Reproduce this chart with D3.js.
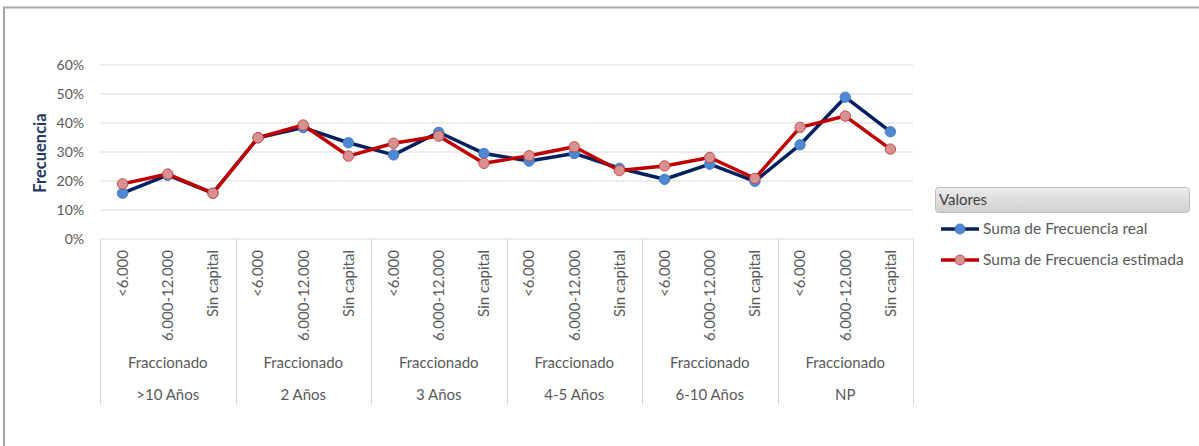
<!DOCTYPE html>
<html>
<head>
<meta charset="utf-8">
<script src="https://cdn.jsdelivr.net/npm/d3@7"></script>
<style>
  html, body { margin: 0; padding: 0; background: #fff; }
  svg { display: block; font-family: Lato, "Liberation Sans", sans-serif; }
</style>
</head>
<body>
<svg id="chart" width="1199" height="446"></svg>
<script>
// Capital brackets inside each duration group
const capitalLabels = ["<6.000", "6.000-12.000", "Sin capital"];
// Duration groups (outer axis level)
const groups = [">10 Años", "2 Años", "3 Años", "4-5 Años", "6-10 Años", "NP"];
// Payment type (middle axis level)
const paymentType = "Fraccionado";

// Frequency series, in group order, three brackets per group
const realValues = [
  0.158, 0.220, 0.158,
  0.349, 0.384, 0.332,
  0.290, 0.368, 0.295,
  0.269, 0.295, 0.244,
  0.206, 0.258, 0.199,
  0.325, 0.489, 0.370
];
const estimatedValues = [
  0.190, 0.224, 0.158,
  0.349, 0.393, 0.286,
  0.330, 0.355, 0.261,
  0.287, 0.318, 0.236,
  0.252, 0.281, 0.209,
  0.385, 0.424, 0.310
];
const yTicks = [0, 0.1, 0.2, 0.3, 0.4, 0.5, 0.6];
const seriesNames = ["Suma de Frecuencia real", "Suma de Frecuencia estimada"];

const svg = d3.select("#chart");

// outer frame (left and top edges)
svg.append("path")
  .attr("d", "M4,446 V7.5 H1199")
  .attr("fill", "none")
  .attr("stroke", "#a6a6a6")
  .attr("stroke-width", 2);

const plot = { left: 100, right: 913, top: 65, bottom: 239 };

// category keys: group|bracket
const keys = [];
groups.forEach(g => capitalLabels.forEach(c => keys.push(g + "|" + c)));

const x = d3.scaleBand().domain(keys).range([plot.left, plot.right]);
const y = d3.scaleLinear().domain([0, 0.6]).range([plot.bottom, plot.top]);

// horizontal gridlines
svg.append("g")
  .selectAll("line")
  .data(yTicks.filter(t => t > 0))
  .join("line")
  .attr("x1", plot.left).attr("x2", plot.right)
  .attr("y1", d => y(d)).attr("y2", d => y(d))
  .attr("stroke", "#d9d9d9").attr("stroke-width", 1);

// value axis labels
const yAxis = d3.axisLeft(y).tickValues(yTicks).tickFormat(d3.format(".0%")).tickSize(0).tickPadding(16);
const yg = svg.append("g").attr("transform", `translate(${plot.left},0)`).call(yAxis);
yg.select(".domain").remove();
yg.selectAll("text")
  .attr("fill", "#595959")
  .attr("font-size", 14)
  .attr("font-family", "Lato, 'Liberation Sans', sans-serif");

// value axis title
svg.append("text")
  .attr("transform", `translate(46,153) rotate(-90)`)
  .attr("text-anchor", "middle")
  .attr("font-size", 16.5)
  .attr("font-weight", "bold")
  .attr("fill", "#1f3864")
  .text("Frecuencia");

// category axis baseline
svg.append("line")
  .attr("x1", plot.left).attr("x2", plot.right)
  .attr("y1", plot.bottom).attr("y2", plot.bottom)
  .attr("stroke", "#d9d9d9").attr("stroke-width", 1);

// group separators
const groupEdges = groups.map(g => x(g + "|" + capitalLabels[0])).concat([plot.right]);
svg.append("g")
  .selectAll("line")
  .data(groupEdges)
  .join("line")
  .attr("x1", d => Math.round(d) + 0.5).attr("x2", d => Math.round(d) + 0.5)
  .attr("y1", plot.bottom).attr("y2", 405)
  .attr("stroke", "#d9d9d9").attr("stroke-width", 1);

// inner category labels (rotated)
svg.append("g")
  .selectAll("text")
  .data(keys)
  .join("text")
  .attr("transform", d => `translate(${x(d) + x.bandwidth() / 2},250) rotate(-90)`)
  .attr("text-anchor", "end")
  .attr("dy", "0.35em")
  .attr("font-size", 15)
  .attr("fill", "#595959")
  .text(d => d.split("|")[1]);

// middle and outer level labels
groups.forEach((g, i) => {
  const cx = (groupEdges[i] + groupEdges[i + 1]) / 2;
  svg.append("text")
    .attr("x", cx).attr("y", 363).attr("dy", "0.35em")
    .attr("text-anchor", "middle")
    .attr("font-size", 15).attr("fill", "#595959")
    .text(paymentType);
  svg.append("text")
    .attr("x", cx).attr("y", 395).attr("dy", "0.35em")
    .attr("text-anchor", "middle")
    .attr("font-size", 15).attr("fill", "#595959")
    .text(g);
});

const series = [
  { name: seriesNames[0], values: realValues, line: "#002060", fill: "#4f88d2", stroke: "#4a7fc6" },
  { name: seriesNames[1], values: estimatedValues, line: "#c00000", fill: "#d99090", stroke: "#c0504d" }
];

const lineGen = d3.line()
  .x((d, i) => x(keys[i]) + x.bandwidth() / 2)
  .y(d => y(d));

series.forEach(s => {
  const g = svg.append("g");
  g.append("path")
    .attr("d", lineGen(s.values))
    .attr("fill", "none")
    .attr("stroke", s.line)
    .attr("stroke-width", 3.5)
    .attr("stroke-linejoin", "round");
  g.selectAll("circle")
    .data(s.values)
    .join("circle")
    .attr("cx", (d, i) => x(keys[i]) + x.bandwidth() / 2)
    .attr("cy", d => y(d))
    .attr("r", 5.2)
    .attr("fill", s.fill)
    .attr("stroke", s.stroke)
    .attr("stroke-width", 1);
});

// legend
const defs = svg.append("defs");
const grad = defs.append("linearGradient").attr("id", "hdr").attr("x1", 0).attr("y1", 0).attr("x2", 0).attr("y2", 1);
grad.append("stop").attr("offset", "0%").attr("stop-color", "#ececec");
grad.append("stop").attr("offset", "100%").attr("stop-color", "#cfcfcf");

const legend = svg.append("g");
legend.append("rect")
  .attr("x", 935.5).attr("y", 187.5).attr("width", 254).attr("height", 25).attr("rx", 3)
  .attr("fill", "url(#hdr)").attr("stroke", "#bfbfbf");
legend.append("text")
  .attr("x", 939).attr("y", 200).attr("dy", "0.35em")
  .attr("font-size", 15).attr("fill", "#404040")
  .text("Valores");

series.forEach((s, i) => {
  const ly = 229 + i * 31;
  legend.append("line")
    .attr("x1", 941).attr("x2", 979).attr("y1", ly).attr("y2", ly)
    .attr("stroke", s.line).attr("stroke-width", 3.5);
  legend.append("circle")
    .attr("cx", 960).attr("cy", ly).attr("r", 5)
    .attr("fill", s.fill).attr("stroke", s.stroke);
  legend.append("text")
    .attr("x", 983).attr("y", ly).attr("dy", "0.35em")
    .attr("font-size", 15.5).attr("fill", "#595959")
    .text(s.name);
});
</script>
</body>
</html>
